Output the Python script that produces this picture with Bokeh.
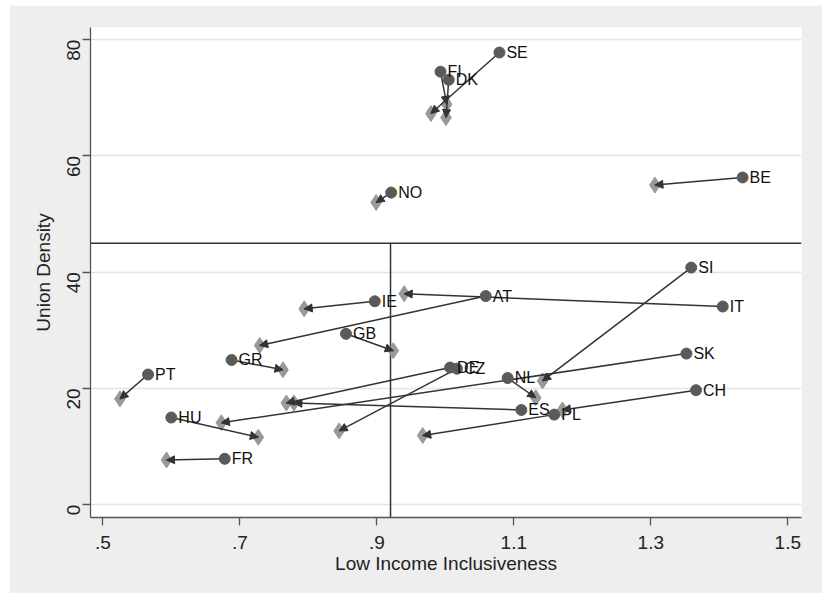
import math
from bokeh.plotting import figure
from bokeh.models import (ColumnDataSource, Arrow, NormalHead, Range1d, FixedTicker,
                          Span, CustomJSTickFormatter)
from bokeh.embed import file_html
from bokeh.resources import INLINE
from bokeh.core.properties import value

# ---- data ----
countries = ["SE", "FI", "DK", "NO", "BE", "SI", "IT", "AT", "IE", "GB", "GR",
             "PT", "HU", "FR", "DE", "CZ", "NL", "SK", "ES", "PL", "CH"]
# start (circle)
incl_start = [1.079, 0.993, 1.005, 0.921, 1.434, 1.359, 1.405, 1.059, 0.897, 0.855, 0.688,
              0.566, 0.600, 0.678, 1.007, 1.017, 1.091, 1.352, 1.111, 1.159, 1.366]
dens_start = [77.8, 74.5, 73.1, 53.7, 56.3, 40.8, 34.1, 35.9, 35.0, 29.4, 24.9,
              22.4, 15.0, 7.9, 23.6, 23.4, 21.8, 26.0, 16.3, 15.5, 19.7]
# end (diamond)
incl_end = [0.979, 1.002, 1.001, 0.899, 1.306, 1.142, 0.940, 0.729, 0.794, 0.924, 0.763,
            0.525, 0.727, 0.593, 0.768, 0.845, 1.132, 0.673, 0.779, 0.967, 1.171]
dens_end = [67.3, 68.9, 66.6, 52.0, 55.0, 21.3, 36.3, 27.4, 33.7, 26.5, 23.2,
            18.2, 11.6, 7.7, 17.5, 12.7, 18.4, 14.1, 17.5, 11.9, 16.3]

x_ticks = [0.5, 0.7, 0.9, 1.1, 1.3, 1.5]
y_ticks = [0, 20, 40, 60, 80]
h_ref = 45.0     # horizontal reference line (union density)
v_ref = 0.92     # vertical reference line (inclusiveness)

X_MIN, X_MAX = 0.482, 1.52
Y_MIN, Y_MAX = -2.2, 82.1

src = ColumnDataSource(dict(country=countries, x0=incl_start, y0=dens_start,
                            x1=incl_end, y1=dens_end))

FONT = "Liberation Sans"
BG = "#eeeeee"

p = figure(width=813, height=588, output_backend="svg", toolbar_location=None,
           x_range=Range1d(X_MIN, X_MAX), y_range=Range1d(Y_MIN, Y_MAX),
           min_border_left=81, min_border_right=21, min_border_top=22,
           min_border_bottom=76)
p.margin = (5, 0, 0, 9)
p.border_fill_color = BG
p.background_fill_color = "white"
p.outline_line_color = None

# grid
p.xgrid.grid_line_color = None
p.ygrid.grid_line_color = "#e4e4e4"
p.ygrid.grid_line_width = 1.5
p.ygrid.ticker = FixedTicker(ticks=y_ticks)

# axes
p.xaxis.ticker = FixedTicker(ticks=x_ticks)
p.yaxis.ticker = FixedTicker(ticks=y_ticks)
p.xaxis.formatter = CustomJSTickFormatter(code="""
    var s = tick.toFixed(1);
    if (s.startsWith('0')) { s = s.substring(1); }
    return s;
""")
p.xaxis.axis_label = "Low Income Inclusiveness"
p.yaxis.axis_label = "Union Density"
p.yaxis.major_label_orientation = math.pi / 2
for ax in (p.xaxis[0], p.yaxis[0]):
    ax.axis_line_color = "#555555"
    ax.axis_line_width = 1.3
    ax.major_tick_line_color = "#555555"
    ax.major_tick_line_width = 1.3
    ax.major_tick_out = 8
    ax.major_tick_in = 0
    ax.minor_tick_line_color = None
    ax.major_label_text_font = FONT
    ax.major_label_text_font_size = "19px"
    ax.major_label_text_color = "#222222"
    ax.axis_label_text_font = FONT
    ax.axis_label_text_font_size = "19px"
    ax.axis_label_text_font_style = "normal"
    ax.axis_label_text_color = "#222222"
p.xaxis.major_label_standoff = 10
p.xaxis.axis_label_standoff = 1
p.yaxis.major_label_standoff = 9
p.yaxis.axis_label_standoff = 4

# reference lines
p.add_layout(Span(location=h_ref, dimension="width", line_color="#333333", line_width=1.5))
p.segment(x0=[v_ref], y0=[h_ref], x1=[v_ref], y1=[Y_MIN], line_color="#333333", line_width=1.5)

# markers and connecting lines
p.scatter("x1", "y1", source=src, marker="diamond", size=16,
          fill_color="#999999", line_color="#999999")
p.segment("x0", "y0", "x1", "y1", source=src, line_color="#333333", line_width=1.5)
p.scatter("x0", "y0", source=src, marker="circle", size=11,
          fill_color="#5a5a5a", line_color="#5a5a5a")
p.text("x0", "y0", text="country", source=src, x_offset=7, text_baseline="middle",
       text_font=value(FONT), text_font_size="16px", text_color="#111111")

# arrow heads
p.add_layout(Arrow(end=NormalHead(size=8, fill_color="#333333", line_color="#333333"),
                   x_start="x0", y_start="y0", x_end="x1", y_end="y1",
                   line_alpha=0, source=src))

open("out.html", "w").write(file_html(p, INLINE))
